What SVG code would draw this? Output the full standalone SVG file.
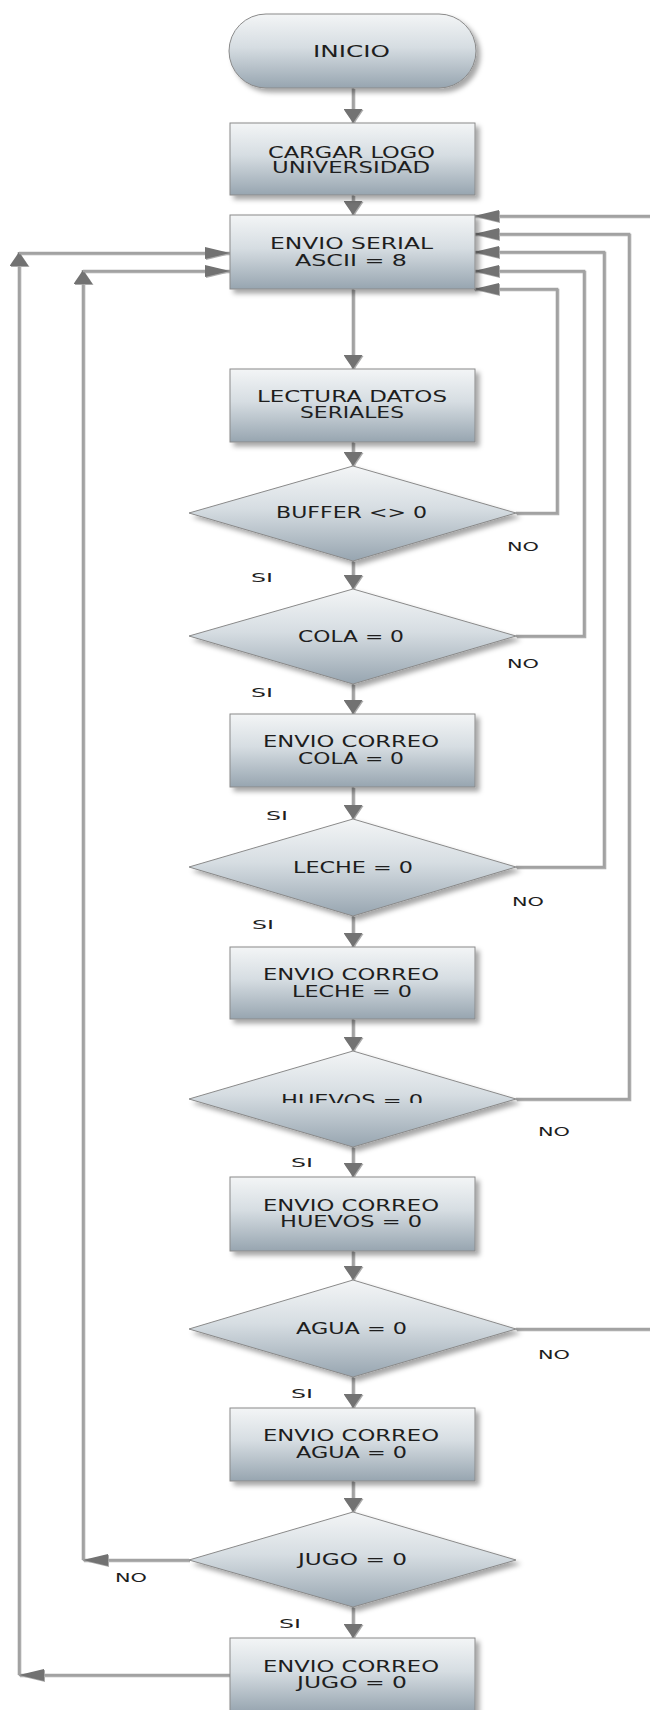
<svg xmlns="http://www.w3.org/2000/svg" width="650" height="1710" viewBox="0 0 650 1710">
  <defs>
    <style>
      .shape { fill: url(#steel); stroke: #8a8a8a; stroke-width: 1; filter: url(#shadow); }
      .txt { font-family: "DejaVu Sans", Verdana, sans-serif; font-size: 15px; fill: #1e1e1e; text-anchor: middle; }
      .lbl { font-family: "DejaVu Sans", Verdana, sans-serif; font-size: 13px; fill: #1e1e1e; }
      .wire { fill: none; stroke: #a2a2a2; stroke-width: 2.6; }
      .wv { marker-end: url(#arrowV); }
      .wh { marker-end: url(#arrowH); }
    </style>
    <linearGradient id="steel" x1="0" y1="0" x2="0" y2="1">
      <stop offset="0" stop-color="#f3f5f6"/>
      <stop offset="0.45" stop-color="#d6dde2"/>
      <stop offset="1" stop-color="#97a5b0"/>
    </linearGradient>
    <filter id="shadow" x="-10%" y="-10%" width="125%" height="130%">
      <feDropShadow dx="4" dy="4" stdDeviation="2.5" flood-color="#000" flood-opacity="0.35"/>
    </filter>
    <filter id="lineShadow" x="-5%" y="-5%" width="110%" height="110%">
      <feDropShadow dx="1" dy="1" stdDeviation="0.6" flood-color="#555" flood-opacity="0.5"/>
    </filter>
    <marker id="arrowV" viewBox="0 0 14 19" markerWidth="14" markerHeight="19" refX="14" refY="9.5" orient="auto" markerUnits="userSpaceOnUse">
      <path d="M0,0 L14,9.5 L0,19 Z" fill="#727272"/>
    </marker>
    <marker id="arrowH" viewBox="0 0 25 12" markerWidth="25" markerHeight="12" refX="25" refY="6" orient="auto" markerUnits="userSpaceOnUse">
      <path d="M0,0 L25,6 L0,12 Z" fill="#727272"/>
    </marker>
    <clipPath id="cutHuevos">
      <rect x="0" y="1080" width="650" height="23"/>
    </clipPath>
  </defs>

  <rect width="650" height="1710" fill="#ffffff"/>

  <!-- connectors -->
  <g id="connectors" filter="url(#lineShadow)">
    <!-- main vertical flow -->
    <path class="wire wv" d="M353,88 V123"/>
    <path class="wire wv" d="M353,195 V215"/>
    <path class="wire wv" d="M353,289 V369"/>
    <path class="wire wv" d="M353,442 V466"/>
    <path class="wire wv" d="M353,561 V589"/>
    <path class="wire wv" d="M353,684 V714"/>
    <path class="wire wv" d="M353,787 V819"/>
    <path class="wire wv" d="M353,916 V947"/>
    <path class="wire wv" d="M353,1019 V1051"/>
    <path class="wire wv" d="M353,1147 V1177"/>
    <path class="wire wv" d="M353,1251 V1280"/>
    <path class="wire wv" d="M353,1377 V1408"/>
    <path class="wire wv" d="M353,1481 V1512"/>
    <path class="wire wv" d="M353,1607 V1638"/>

    <!-- NO returns on the right -->
    <path class="wire wh" d="M516,513 H557 V289 H474"/>
    <path class="wire wh" d="M516,636 H584 V271 H474"/>
    <path class="wire wh" d="M516,867 H604 V252 H474"/>
    <path class="wire wh" d="M516,1099 H629 V234 H474"/>
    <path class="wire" d="M516,1329 H650"/>
    <path class="wire wh" d="M650,216 H474"/>

    <!-- returns on the left -->
    <path class="wire wh" d="M189,1560 H83"/>
    <path class="wire wv" d="M83,1560 V270"/>
    <path class="wire wh" d="M83,271 H230"/>
    <path class="wire wh" d="M230,1675 H19"/>
    <path class="wire wv" d="M19,1675 V252"/>
    <path class="wire wh" d="M19,253 H230"/>
  </g>

  <!-- nodes -->
  <g id="inicio">
    <rect class="shape" x="229" y="14" width="247" height="74" rx="37" ry="37"/>
    <text class="txt" x="351.5" y="57" textLength="77" lengthAdjust="spacingAndGlyphs">INICIO</text>
  </g>

  <g id="cargar-logo">
    <rect class="shape" x="230" y="123" width="245" height="72"/>
    <text class="txt" x="351.5" y="158" textLength="167" lengthAdjust="spacingAndGlyphs">CARGAR LOGO</text>
    <text class="txt" x="351" y="173" textLength="158" lengthAdjust="spacingAndGlyphs">UNIVERSIDAD</text>
  </g>

  <g id="envio-serial">
    <rect class="shape" x="230" y="215" width="245" height="74"/>
    <text class="txt" x="351.5" y="249" textLength="163" lengthAdjust="spacingAndGlyphs">ENVIO SERIAL</text>
    <text class="txt" x="351" y="266" textLength="112" lengthAdjust="spacingAndGlyphs">ASCII = 8</text>
  </g>

  <g id="lectura-datos">
    <rect class="shape" x="230" y="369" width="245" height="73"/>
    <text class="txt" x="352" y="402" textLength="190" lengthAdjust="spacingAndGlyphs">LECTURA DATOS</text>
    <text class="txt" x="352" y="418" textLength="104" lengthAdjust="spacingAndGlyphs">SERIALES</text>
  </g>

  <g id="buffer">
    <polygon class="shape" points="189,513 353,466 516,513 353,561"/>
    <text class="txt" x="351.5" y="518" textLength="151" lengthAdjust="spacingAndGlyphs">BUFFER &lt;&gt; 0</text>
  </g>

  <g id="cola">
    <polygon class="shape" points="189,636 353,589 516,636 353,684"/>
    <text class="txt" x="351" y="642" textLength="106" lengthAdjust="spacingAndGlyphs">COLA = 0</text>
  </g>

  <g id="correo-cola">
    <rect class="shape" x="230" y="714" width="245" height="73"/>
    <text class="txt" x="351" y="747" textLength="176" lengthAdjust="spacingAndGlyphs">ENVIO CORREO</text>
    <text class="txt" x="351" y="764" textLength="106" lengthAdjust="spacingAndGlyphs">COLA = 0</text>
  </g>

  <g id="leche">
    <polygon class="shape" points="189,867 353,819 516,867 353,916"/>
    <text class="txt" x="353" y="873" textLength="120" lengthAdjust="spacingAndGlyphs">LECHE = 0</text>
  </g>

  <g id="correo-leche">
    <rect class="shape" x="230" y="947" width="245" height="72"/>
    <text class="txt" x="351" y="980" textLength="176" lengthAdjust="spacingAndGlyphs">ENVIO CORREO</text>
    <text class="txt" x="352" y="997" textLength="120" lengthAdjust="spacingAndGlyphs">LECHE = 0</text>
  </g>

  <g id="huevos">
    <polygon class="shape" points="189,1099 353,1051 516,1099 353,1147"/>
    <text class="txt" x="352" y="1106" textLength="142" lengthAdjust="spacingAndGlyphs" clip-path="url(#cutHuevos)">HUEVOS = 0</text>
  </g>

  <g id="correo-huevos">
    <rect class="shape" x="230" y="1177" width="245" height="74"/>
    <text class="txt" x="351" y="1211" textLength="176" lengthAdjust="spacingAndGlyphs">ENVIO CORREO</text>
    <text class="txt" x="351" y="1227" textLength="142" lengthAdjust="spacingAndGlyphs">HUEVOS = 0</text>
  </g>

  <g id="agua">
    <polygon class="shape" points="189,1329 353,1280 516,1329 353,1377"/>
    <text class="txt" x="351.5" y="1334" textLength="111" lengthAdjust="spacingAndGlyphs">AGUA = 0</text>
  </g>

  <g id="correo-agua">
    <rect class="shape" x="230" y="1408" width="245" height="73"/>
    <text class="txt" x="351" y="1441" textLength="176" lengthAdjust="spacingAndGlyphs">ENVIO CORREO</text>
    <text class="txt" x="351.5" y="1458" textLength="111" lengthAdjust="spacingAndGlyphs">AGUA = 0</text>
  </g>

  <g id="jugo">
    <polygon class="shape" points="189,1560 353,1512 516,1560 353,1607"/>
    <text class="txt" x="352.5" y="1565" textLength="109" lengthAdjust="spacingAndGlyphs">JUGO = 0</text>
  </g>

  <g id="correo-jugo">
    <rect class="shape" x="230" y="1638" width="245" height="74"/>
    <text class="txt" x="351" y="1672" textLength="176" lengthAdjust="spacingAndGlyphs">ENVIO CORREO</text>
    <text class="txt" x="352" y="1688" textLength="110" lengthAdjust="spacingAndGlyphs">JUGO = 0</text>
  </g>

  <!-- branch labels -->
  <g id="labels">
    <text class="lbl" x="507" y="551" textLength="32" lengthAdjust="spacingAndGlyphs">NO</text>
    <text class="lbl" x="251" y="582" textLength="22" lengthAdjust="spacingAndGlyphs">SI</text>
    <text class="lbl" x="507" y="668" textLength="32" lengthAdjust="spacingAndGlyphs">NO</text>
    <text class="lbl" x="251" y="697" textLength="22" lengthAdjust="spacingAndGlyphs">SI</text>
    <text class="lbl" x="266" y="820" textLength="22" lengthAdjust="spacingAndGlyphs">SI</text>
    <text class="lbl" x="512" y="906" textLength="32" lengthAdjust="spacingAndGlyphs">NO</text>
    <text class="lbl" x="252" y="929" textLength="22" lengthAdjust="spacingAndGlyphs">SI</text>
    <text class="lbl" x="538" y="1136" textLength="32" lengthAdjust="spacingAndGlyphs">NO</text>
    <text class="lbl" x="291" y="1167" textLength="22" lengthAdjust="spacingAndGlyphs">SI</text>
    <text class="lbl" x="538" y="1359" textLength="32" lengthAdjust="spacingAndGlyphs">NO</text>
    <text class="lbl" x="291" y="1398" textLength="22" lengthAdjust="spacingAndGlyphs">SI</text>
    <text class="lbl" x="115" y="1582" textLength="32" lengthAdjust="spacingAndGlyphs">NO</text>
    <text class="lbl" x="279" y="1628" textLength="22" lengthAdjust="spacingAndGlyphs">SI</text>
  </g>
</svg>
